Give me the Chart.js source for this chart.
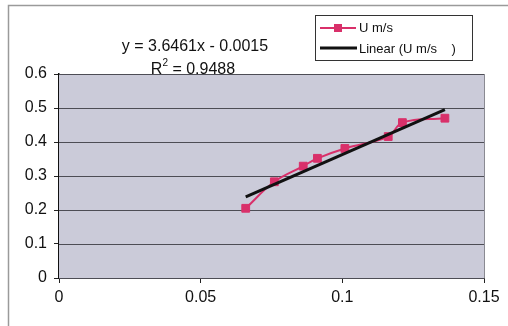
<!DOCTYPE html>
<html>
<head>
<meta charset="utf-8">
<script src="https://cdn.jsdelivr.net/npm/chart.js@4/dist/chart.umd.min.js"></script>
<style>
  html, body { margin: 0; padding: 0; background: #ffffff; }
  #wrap { position: relative; width: 508px; height: 326px; }
</style>
</head>
<body>
<div id="wrap"><canvas id="chart" width="508" height="326"></canvas></div>
<script>
// Measured velocity against x
const xValues = [0.0659, 0.0760, 0.0862, 0.0912, 0.1009, 0.1162, 0.1212, 0.1362];
const uValues = [0.205, 0.283, 0.329, 0.352, 0.381, 0.416, 0.457, 0.470];

// Linear fit as printed on the chart
const fitSlope = 3.6461;
const fitIntercept = -0.0015;
const fitLabel = ['y = 3.6461x - 0.0015', 'R', '2', ' = 0.9488'];

const xTickLabels = ['0', '0.05', '0.1', '0.15'];
const yTickLabels = ['0', '0.1', '0.2', '0.3', '0.4', '0.5', '0.6'];

const seriesName = 'U m/s';
const fitName = 'Linear (U m/s    )';

const pink = '#d9306a';
const font = '"Liberation Sans", Arial, sans-serif';

const measured = xValues.map((x, i) => ({ x: x, y: uValues[i] }));
const xMin = Math.min(...xValues), xMax = Math.max(...xValues);
const fitLine = [xMin, xMax].map(x => ({ x: x, y: fitSlope * x + fitIntercept }));

// Plot backdrop, frame, equation and legend box
const decorations = {
    id: 'decorations',
    beforeDatasetsDraw(chart) {
        const { ctx, chartArea: a } = chart;
        ctx.save();
        ctx.fillStyle = '#cbcbd9';
        ctx.fillRect(a.left, a.top, a.right - a.left, a.bottom - a.top);
        // redraw horizontal grid lines over the fill
        const ys = chart.scales.y;
        ctx.strokeStyle = '#4d4d55';
        ctx.lineWidth = 1;
        ys.ticks.forEach(t => {
            const py = Math.round(ys.getPixelForValue(t.value)) + 0.5;
            ctx.beginPath();
            ctx.moveTo(a.left, py);
            ctx.lineTo(a.right, py);
            ctx.stroke();
        });
        ctx.strokeStyle = '#8a8a92';
        ctx.beginPath();
        ctx.moveTo(a.right + 0.5, a.top);
        ctx.lineTo(a.right + 0.5, a.bottom);
        ctx.stroke();
        ctx.restore();
    },
    afterDraw(chart) {
        const { ctx } = chart;
        ctx.save();

        // outer chart frame
        ctx.strokeStyle = '#9a9a9a';
        ctx.lineWidth = 1.5;
        ctx.beginPath();
        ctx.moveTo(8.5, 330);
        ctx.lineTo(8.5, 5.5);
        ctx.lineTo(520, 5.5);
        ctx.stroke();

        // trendline equation
        ctx.fillStyle = '#111111';
        ctx.textBaseline = 'alphabetic';
        ctx.font = '16px ' + font;
        ctx.textAlign = 'center';
        ctx.fillText(fitLabel[0], 195, 51);
        ctx.textAlign = 'left';
        const wR = ctx.measureText(fitLabel[1]).width;
        ctx.font = '10px ' + font;
        const w2 = ctx.measureText(fitLabel[2]).width;
        ctx.font = '16px ' + font;
        const wRest = ctx.measureText(fitLabel[3]).width;
        let x0 = 193 - (wR + w2 + wRest) / 2;
        ctx.fillText(fitLabel[1], x0, 74);
        ctx.font = '10px ' + font;
        ctx.fillText(fitLabel[2], x0 + wR, 66);
        ctx.font = '16px ' + font;
        ctx.fillText(fitLabel[3], x0 + wR + w2, 74);

        // legend box
        ctx.fillStyle = '#ffffff';
        ctx.fillRect(315.5, 15.5, 157, 45);
        ctx.strokeStyle = '#333333';
        ctx.lineWidth = 1;
        ctx.strokeRect(315.5, 15.5, 157, 45);

        ctx.strokeStyle = pink;
        ctx.lineWidth = 2;
        ctx.beginPath();
        ctx.moveTo(320, 28);
        ctx.lineTo(356, 28);
        ctx.stroke();
        ctx.fillStyle = pink;
        ctx.fillRect(334, 24, 8, 8);

        ctx.strokeStyle = '#111111';
        ctx.lineWidth = 3;
        ctx.beginPath();
        ctx.moveTo(320, 48);
        ctx.lineTo(357, 48);
        ctx.stroke();

        ctx.fillStyle = '#111111';
        ctx.font = '13px ' + font;
        ctx.textBaseline = 'middle';
        ctx.fillText(seriesName, 359, 28);
        ctx.fillText(fitName, 359, 49);
        ctx.restore();
    }
};

new Chart(document.getElementById('chart'), {
    type: 'scatter',
    data: {
        datasets: [
            {
                label: seriesName,
                data: measured,
                showLine: true,
                tension: 0.4,
                borderColor: pink,
                borderWidth: 2,
                pointStyle: 'rect',
                pointRadius: 5.5,
                pointBackgroundColor: pink,
                pointBorderColor: pink,
                pointBorderWidth: 1,
                order: 2
            },
            {
                label: fitName,
                data: fitLine,
                showLine: true,
                borderColor: '#111111',
                borderWidth: 3,
                pointRadius: 0,
                order: 1
            }
        ]
    },
    options: {
        responsive: false,
        animation: false,
        layout: { padding: { left: 8, top: 74, right: 24, bottom: 0 } },
        plugins: {
            legend: { display: false },
            tooltip: { enabled: false }
        },
        scales: {
            x: {
                type: 'linear',
                min: 0,
                max: 0.15,
                afterFit: s => { s.height = 48; },
                afterBuildTicks: s => { s.ticks = xTickLabels.map(v => ({ value: parseFloat(v) })); },
                ticks: {
                    callback: (v, i) => xTickLabels[i],
                    color: '#111111',
                    font: { family: font, size: 16 },
                    padding: 5,
                    maxRotation: 0
                },
                grid: { drawOnChartArea: false, drawTicks: true, tickLength: 5, color: '#222222' },
                border: { color: '#111111', width: 1.5 }
            },
            y: {
                min: 0,
                max: 0.6,
                afterFit: s => { s.width = 51; },
                afterBuildTicks: s => { s.ticks = yTickLabels.map(v => ({ value: parseFloat(v) })); },
                ticks: {
                    callback: (v, i) => yTickLabels[i],
                    color: '#111111',
                    font: { family: font, size: 16 },
                    padding: 7
                },
                grid: { drawOnChartArea: false, drawTicks: true, tickLength: 5, color: '#222222' },
                border: { color: '#111111', width: 1.5 }
            }
        }
    },
    plugins: [decorations]
});
</script>
</body>
</html>
